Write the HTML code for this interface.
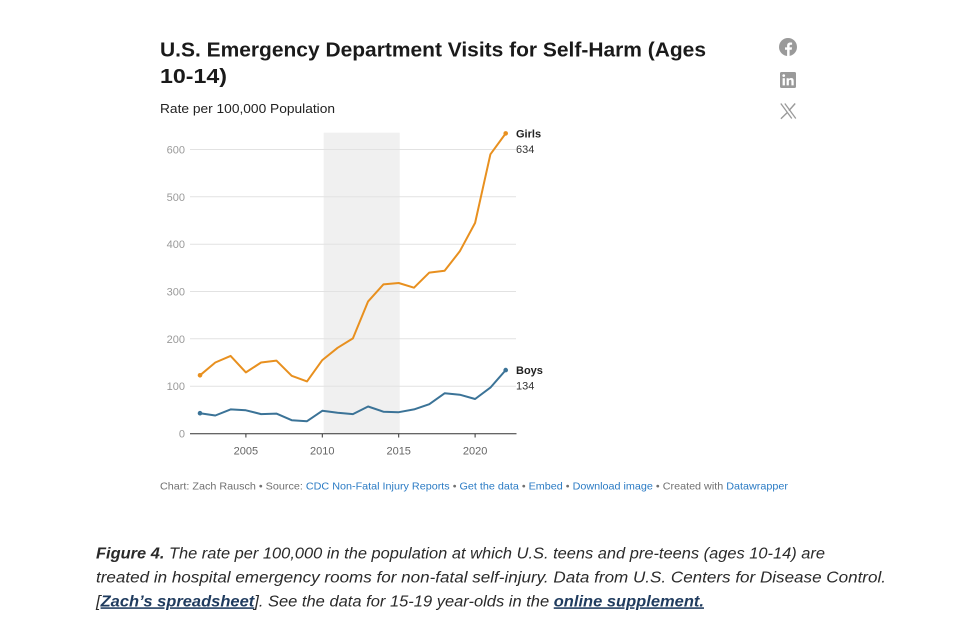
<!DOCTYPE html>
<html>
<head>
<meta charset="utf-8">
<style>
  html, body { margin: 0; padding: 0; background: #ffffff; }
  svg { display: block; }
  text { font-family: "Liberation Sans", Arial, sans-serif; }
</style>
</head>
<body>
<svg width="953" height="629" viewBox="0 0 953 629" xmlns="http://www.w3.org/2000/svg">
  <rect width="953" height="629" fill="#ffffff"/>

  <!-- Title -->
  <text x="160" y="56.5" font-size="20" font-weight="bold" fill="#1a1a1a" textLength="546" lengthAdjust="spacingAndGlyphs">U.S. Emergency Department Visits for Self-Harm (Ages</text>
  <text x="160" y="83" font-size="20" font-weight="bold" fill="#1a1a1a" textLength="67" lengthAdjust="spacingAndGlyphs">10-14)</text>
  <text x="160" y="113" font-size="13" fill="#222" textLength="175" lengthAdjust="spacingAndGlyphs">Rate per 100,000 Population</text>

  <!-- Social icons -->
  <g fill="#9a9a9a">
    <circle cx="788" cy="47" r="9"/>
    <path d="M789.6 56 v-6.2 h2.1 l0.35 -2.4 h-2.45 v-1.5 c0 -0.7 0.25 -1.15 1.2 -1.15 h1.3 v-2.15 c-0.25 0 -1 -0.1 -1.9 -0.1 c-1.9 0 -3.1 1.15 -3.1 3.2 v1.7 h-2.1 v2.4 h2.1 v6.2 z" fill="#ffffff"/>
    <rect x="780" y="72" width="16" height="16" rx="1.5"/>
  </g>
  <g fill="#ffffff">
    <rect x="782.6" y="78.2" width="2.3" height="7.2"/>
    <circle cx="783.75" cy="75.6" r="1.35"/>
    <path d="M786.6 78.2 h2.2 v1 c0.35 -0.6 1.1 -1.2 2.3 -1.2 c2.2 0 2.6 1.4 2.6 3.3 v4.1 h-2.3 v-3.6 c0 -0.9 0 -1.9 -1.2 -1.9 c-1.2 0 -1.35 0.9 -1.35 1.85 v3.65 h-2.25 z"/>
  </g>
  <g stroke="#9a9a9a" fill="none">
    <path d="M780.8 103.5 L791.8 118.5 M784.8 103.5 L795.8 118.5" stroke-width="1.3"/>
    <path d="M795.2 103.5 L788.9 110.6 M787.2 112.6 L780.9 118.8" stroke-width="1.4"/>
  </g>

  <!-- Shaded 2010-2015 band -->
  <rect x="323.7" y="132.7" width="76" height="300.8" fill="#f0f0f0"/>

  <!-- Gridlines -->
  <g stroke="#e2e2e2" stroke-width="1">
    <line x1="190" y1="386.2" x2="516" y2="386.2"/>
    <line x1="190" y1="338.8" x2="516" y2="338.8"/>
    <line x1="190" y1="291.5" x2="516" y2="291.5"/>
    <line x1="190" y1="244.2" x2="516" y2="244.2"/>
    <line x1="190" y1="196.8" x2="516" y2="196.8"/>
    <line x1="190" y1="149.5" x2="516" y2="149.5"/>
  </g>

  <!-- Y labels -->
  <g font-size="11" fill="#9a9a9a" text-anchor="end">
    <text x="185" y="437.5">0</text>
    <text x="185" y="390.2">100</text>
    <text x="185" y="342.8">200</text>
    <text x="185" y="295.5">300</text>
    <text x="185" y="248.2">400</text>
    <text x="185" y="200.8">500</text>
    <text x="185" y="153.5">600</text>
  </g>

  <!-- Axis -->
  <line x1="190" y1="433.8" x2="516.5" y2="433.8" stroke="#333" stroke-width="1"/>
  <g stroke="#333" stroke-width="1">
    <line x1="245.9" y1="433.8" x2="245.9" y2="437.5"/>
    <line x1="322.3" y1="433.8" x2="322.3" y2="437.5"/>
    <line x1="398.7" y1="433.8" x2="398.7" y2="437.5"/>
    <line x1="475.1" y1="433.8" x2="475.1" y2="437.5"/>
  </g>
  <g font-size="11" fill="#666" text-anchor="middle">
    <text x="245.9" y="454.3">2005</text>
    <text x="322.3" y="454.3">2010</text>
    <text x="398.7" y="454.3">2015</text>
    <text x="475.1" y="454.3">2020</text>
  </g>

  <!-- Girls line -->
  <polyline fill="none" stroke="#e8901f" stroke-width="2" stroke-linejoin="round" stroke-linecap="round"
    points="200,375.3 215.3,362.5 230.6,355.9 245.9,372.4 261.1,362.5 276.4,360.6 291.7,375.8 307,381.4 322.3,360.1 337.6,347.8 352.9,338.4 368.1,301.4 383.4,284.4 398.7,283 414,287.7 429.3,272.6 444.6,270.7 459.8,251.3 475.1,222.9 490.4,154.3 505.7,133.4"/>
  <circle cx="200" cy="375.3" r="2.3" fill="#e8901f"/>
  <circle cx="505.7" cy="133.4" r="2.3" fill="#e8901f"/>

  <!-- Boys line -->
  <polyline fill="none" stroke="#3b7397" stroke-width="2" stroke-linejoin="round" stroke-linecap="round"
    points="200,413.2 215.3,415.5 230.6,409.4 245.9,410.3 261.1,414.1 276.4,413.6 291.7,420.2 307,421.2 322.3,410.8 337.6,412.7 352.9,414.1 368.1,406.5 383.4,411.7 398.7,412.2 414,409.4 429.3,404.2 444.6,393.3 459.8,394.7 475.1,399 490.4,387.6 505.7,370.1"/>
  <circle cx="200" cy="413.2" r="2.3" fill="#3b7397"/>
  <circle cx="505.7" cy="370.1" r="2.3" fill="#3b7397"/>

  <!-- Series labels -->
  <text x="516" y="137.5" font-size="11" font-weight="bold" fill="#222">Girls</text>
  <text x="516" y="152.8" font-size="11" fill="#333">634</text>
  <text x="516" y="374" font-size="11" font-weight="bold" fill="#222">Boys</text>
  <text x="516" y="389.3" font-size="11" fill="#333">134</text>

  <!-- Footer -->
  <text x="160" y="489.7" font-size="10.5" fill="#707070" textLength="628" lengthAdjust="spacingAndGlyphs">Chart: Zach Rausch • Source: <tspan fill="#2b7bc4">CDC Non-Fatal Injury Reports</tspan> • <tspan fill="#2b7bc4">Get the data</tspan> • <tspan fill="#2b7bc4">Embed</tspan>  • <tspan fill="#2b7bc4">Download image</tspan> • Created with <tspan fill="#2b7bc4">Datawrapper</tspan></text>

  <!-- Caption -->
  <g font-size="15.5" font-style="italic" fill="#2a2a2a">
    <text x="96" y="558.3" textLength="729" lengthAdjust="spacingAndGlyphs"><tspan font-weight="bold">Figure 4.</tspan> The rate per 100,000 in the population at which U.S. teens and pre-teens (ages 10-14) are</text>
    <text x="96" y="582.3" textLength="790" lengthAdjust="spacingAndGlyphs">treated in hospital emergency rooms for non-fatal self-injury. Data from U.S. Centers for Disease Control.</text>
    <text x="96" y="606.3" textLength="608" lengthAdjust="spacingAndGlyphs">[<tspan font-weight="bold" fill="#1f3b5e" text-decoration="underline">Zach’s spreadsheet</tspan>]. See the data for 15-19 year-olds in the <tspan font-weight="bold" fill="#1f3b5e" text-decoration="underline">online supplement.</tspan></text>
  </g>
</svg>
</body>
</html>
